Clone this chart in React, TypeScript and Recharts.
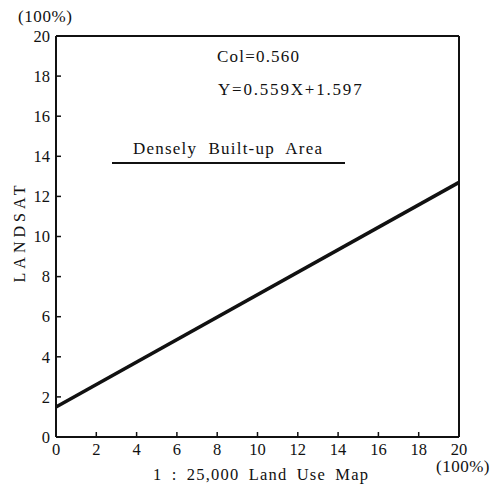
import { LineChart, Line, XAxis, YAxis, ReferenceLine } from 'recharts'

// values
const landUse = [0, 20]
const landsat = [1.5, 12.7]
const xTicks = [0, 2, 4, 6, 8, 10, 12, 14, 16, 18, 20]
const yTicks = [0, 2, 4, 6, 8, 10, 12, 14, 16, 18, 20]

const data = landUse.map((x, i) => ({ x, y: landsat[i] }))

const FONT = '"Liberation Serif", "DejaVu Serif", serif'

function YTick({ x, y, payload }: any) {
  const v = payload.value
  return (
    <g>
      <text x={x} y={y} textAnchor="end" dy="0.35em" fontFamily={FONT} fontSize={16.5} fill="#111">
        {v}
      </text>
      {v > 0 && v < 20 && <line x1={x + 6} x2={x + 11} y1={y} y2={y} stroke="#111" strokeWidth={1.5} />}
    </g>
  )
}

function XTick({ x, y, payload }: any) {
  const v = payload.value
  return (
    <g>
      <text x={x} y={y} textAnchor="middle" dy="0.71em" fontFamily={FONT} fontSize={16.5} fill="#111">
        {v}
      </text>
      {v > 0 && v < 20 && <line x1={x} x2={x} y1={y - 6} y2={y - 11} stroke="#111" strokeWidth={1.5} />}
    </g>
  )
}

const txt = (style: any) => ({
  position: 'absolute' as const,
  fontFamily: FONT,
  color: '#111',
  lineHeight: 1,
  whiteSpace: 'nowrap' as const,
  ...style,
})

export default function App() {
  return (
    <div style={{ position: 'absolute', left: 0, top: 0, width: 496, height: 486, background: '#fff' }}>
      <LineChart
        width={496}
        height={486}
        data={data}
        margin={{ top: 36, right: 37, bottom: 0, left: 0 }}
      >
        <XAxis
          dataKey="x"
          type="number"
          domain={[0, 20]}
          ticks={xTicks}
          tickSize={0}
          tickMargin={6}
          tick={<XTick />}
          axisLine={{ stroke: '#111', strokeWidth: 2 }}
          height={49}
        />
        <YAxis
          type="number"
          domain={[0, 20]}
          ticks={yTicks}
          tickSize={0}
          tickMargin={6}
          tick={<YTick />}
          axisLine={{ stroke: '#111', strokeWidth: 2 }}
          width={56}
        />
        <ReferenceLine y={20} stroke="#111" strokeWidth={2} />
        <ReferenceLine x={20} stroke="#111" strokeWidth={2} />
        <Line
          dataKey="y"
          stroke="#111"
          strokeWidth={3.5}
          dot={false}
          isAnimationActive={false}
        />
      </LineChart>

      <div style={txt({ left: 18, top: 8, fontSize: 17, letterSpacing: 0.6 })}>(100%)</div>
      <div style={txt({ left: 217, top: 48, fontSize: 17, letterSpacing: 1.2 })}>Col=0.560</div>
      <div style={txt({ left: 218, top: 81, fontSize: 17, letterSpacing: 1.8 })}>Y=0.559X+1.597</div>
      <div style={txt({ left: 133, top: 140, fontSize: 17, letterSpacing: 1.2, wordSpacing: 6 })}>
        Densely Built-up Area
      </div>
      <div style={{ position: 'absolute', left: 112, top: 162, width: 233, height: 2, background: '#111' }} />
      <div
        style={txt({
          left: 20,
          top: 232,
          fontSize: 16,
          letterSpacing: 4,
          transform: 'translate(-50%, -50%) rotate(-90deg)',
        })}
      >
        LANDSAT
      </div>
      <div style={txt({ left: 261, top: 467, fontSize: 16.5, letterSpacing: 1.2, wordSpacing: 4, transform: 'translateX(-50%)' })}>
        1 : 25,000 Land Use Map
      </div>
      <div style={txt({ left: 436, top: 458, fontSize: 17, letterSpacing: 0.5 })}>(100%)</div>
    </div>
  )
}
